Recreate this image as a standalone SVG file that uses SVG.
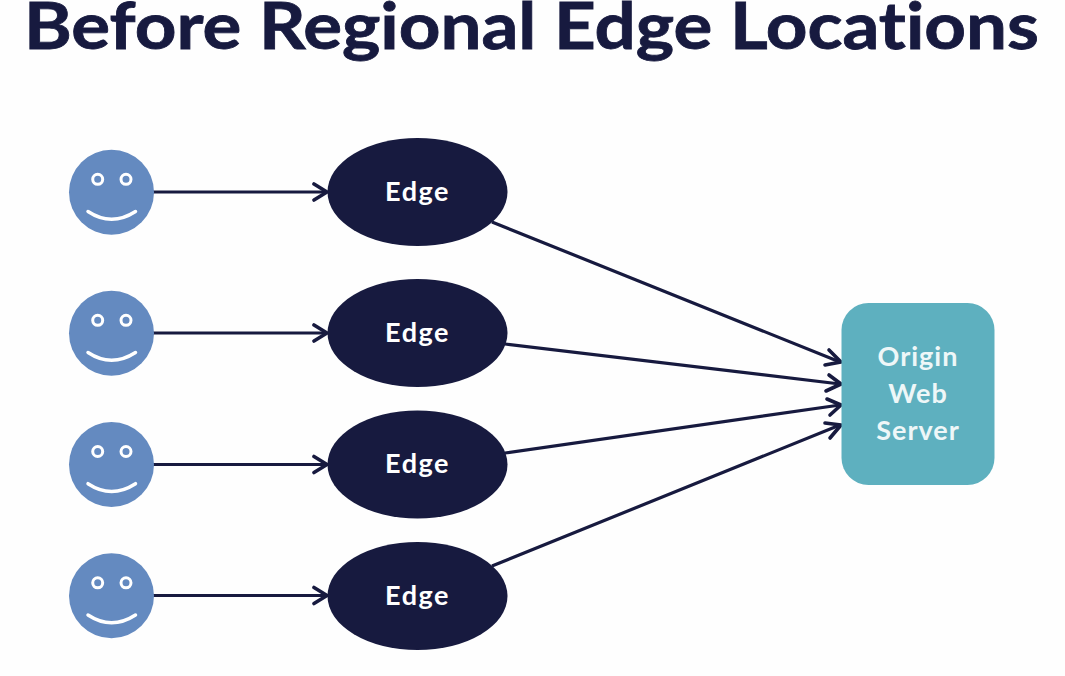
<svg xmlns="http://www.w3.org/2000/svg" width="1065" height="676" viewBox="0 0 1065 676">
<style>
.t{font-family:Lato,"Noto Sans",sans-serif;fill:#fff;text-anchor:middle;font-variant-ligatures:none}
.title{font-family:Lato,"Noto Sans",sans-serif;font-weight:700;font-size:65px;fill:#171a3f;font-variant-ligatures:none;stroke:#171a3f;stroke-width:.8px}
.edge{fill:#171a3f}
.e{font-size:27px;font-weight:700;letter-spacing:1.500px}
.o{font-size:27px;font-weight:700;fill:#eef7f8;letter-spacing:1px}
.face{fill:#648ac0}
.eye{fill:#648ac0;stroke:#fff;stroke-width:3}
.smile{fill:none;stroke:#fff;stroke-width:3.500;stroke-linecap:round}
.c{stroke:#171a3f;stroke-width:3.200;fill:none}
.h{stroke:#171a3f;stroke-width:3.600;fill:none;stroke-linecap:round;stroke-linejoin:round}
</style>
<rect width="1065" height="676" fill="#fefefe"/>
<text class="title" x="24" y="48.500" textLength="1015" lengthAdjust="spacingAndGlyphs">Before Regional Edge Locations</text>
<g id="connectors">
<path class="c" d="M153 192H326M153 333H326M153 464.500H326M153 595.500H326"/>
<path class="h" d="M314 184L327 192L314 200M314 325L327 333L314 341M314 456.500L327 464.500L314 472.500M314 587.500L327 595.500L314 603.500"/>
<path class="c" d="M492 222L840 362M505 344L840 384M505 453L840 405M492 566L840 425"/>
<path class="h" d="M829 350L841 362L825 365M829 375L841 384L826 391M827 399L841 405L830 415M825 423L841 425L830 438"/>
</g>
<g id="user1"><circle class="face" cx="111.500" cy="192.300" r="42.500"/><circle class="eye" cx="97.700" cy="179.300" r="5"/><circle class="eye" cx="126" cy="179.300" r="5"/><path class="smile" d="M88 211.500Q111.500 227 135.500 211.500"/></g>
<g id="user2"><circle class="face" cx="111.500" cy="333.300" r="42.500"/><circle class="eye" cx="97.700" cy="320.300" r="5"/><circle class="eye" cx="126" cy="320.300" r="5"/><path class="smile" d="M88 352.500Q111.500 368 135.500 352.500"/></g>
<g id="user3"><circle class="face" cx="111.500" cy="464.500" r="42.500"/><circle class="eye" cx="97.700" cy="451.500" r="5"/><circle class="eye" cx="126" cy="451.500" r="5"/><path class="smile" d="M88 483.700Q111.500 499.200 135.500 483.700"/></g>
<g id="user4"><circle class="face" cx="111.500" cy="595.800" r="42.500"/><circle class="eye" cx="97.700" cy="582.800" r="5"/><circle class="eye" cx="126" cy="582.800" r="5"/><path class="smile" d="M88 615Q111.500 630.500 135.500 615"/></g>
<g id="edge1"><ellipse class="edge" cx="417.500" cy="192" rx="90" ry="54"/><text class="t e" x="417.500" y="200.500">Edge</text></g>
<g id="edge2"><ellipse class="edge" cx="417.500" cy="333" rx="90" ry="54"/><text class="t e" x="417.500" y="341.500">Edge</text></g>
<g id="edge3"><ellipse class="edge" cx="417.500" cy="464.500" rx="90" ry="54"/><text class="t e" x="417.500" y="473">Edge</text></g>
<g id="edge4"><ellipse class="edge" cx="417.500" cy="596" rx="90" ry="54"/><text class="t e" x="417.500" y="604.500">Edge</text></g>
<g id="origin"><rect x="841.500" y="303" width="153" height="182" rx="27" fill="#5eb0bf"/>
<text class="t o" x="918" y="366">Origin</text><text class="t o" x="918" y="403">Web</text><text class="t o" x="918" y="439.500">Server</text></g>
</svg>
